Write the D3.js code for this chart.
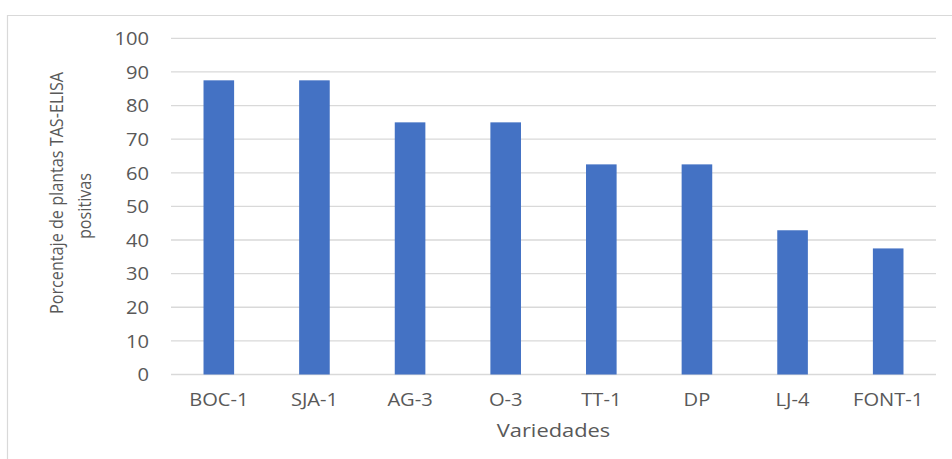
<!DOCTYPE html>
<html>
<head>
<meta charset="utf-8">
<script src="https://cdn.jsdelivr.net/npm/d3@7"></script>
<style>
  html, body { margin: 0; padding: 0; background: #ffffff; }
  svg { display: block; }
  text { font-family: "Open Sans", "Segoe UI", sans-serif; fill: #595959; }
</style>
</head>
<body>
<svg id="chart" width="952" height="459"></svg>
<script>
// Varieties and percentage of TAS-ELISA positive plants
const categories = ["BOC-1", "SJA-1", "AG-3", "O-3", "TT-1", "DP", "LJ-4", "FONT-1"];
const positives = [87.5, 87.5, 75, 75, 62.5, 62.5, 42.9, 37.5];
const yTicks = [0, 10, 20, 30, 40, 50, 60, 70, 80, 90, 100];
const yTitleLines = ["Porcentaje de plantas TAS-ELISA", "positivas"];
const xTitle = "Variedades";

const svg = d3.select("#chart");
const plot = { left: 171, right: 936, top: 38.3, bottom: 374.5 };
const gridColor = "#d9d9d9";
const barColor = "#4472c4";
const stretch = 1.15; // widened lettering

// chart frame
svg.append("path")
  .attr("d", "M7.5,459 V15.5 H952")
  .attr("fill", "none")
  .attr("stroke", gridColor)
  .attr("stroke-width", 1.2);

const x = d3.scaleBand()
  .domain(categories)
  .range([plot.left, plot.right])
  .paddingInner(0.68)
  .paddingOuter(0.34);

const y = d3.scaleLinear()
  .domain([0, 100])
  .range([plot.bottom, plot.top]);

// horizontal gridlines
svg.append("g")
  .selectAll("line")
  .data(yTicks)
  .join("line")
  .attr("x1", plot.left)
  .attr("x2", plot.right)
  .attr("y1", d => y(d))
  .attr("y2", d => y(d))
  .attr("stroke", gridColor)
  .attr("stroke-width", 1.3);

// bars
svg.append("g")
  .selectAll("rect")
  .data(categories.map((c, i) => ({ c, v: positives[i] })))
  .join("rect")
  .attr("x", d => x(d.c))
  .attr("width", x.bandwidth())
  .attr("y", d => y(d.v))
  .attr("height", d => y(0) - y(d.v))
  .attr("fill", barColor);

// widen each text horizontally
function widen(sel) {
  sel.each(function () {
    const w = this.getComputedTextLength();
    d3.select(this)
      .attr("textLength", w * stretch)
      .attr("lengthAdjust", "spacingAndGlyphs");
  });
}

// y axis
const yAxis = svg.append("g")
  .attr("transform", `translate(${plot.left},0)`)
  .call(d3.axisLeft(y).tickValues(yTicks).tickSize(0).tickPadding(22));
yAxis.select(".domain").remove();
yAxis.selectAll("text")
  .attr("font-size", 17.5)
  .attr("font-family", "Open Sans")
  .attr("fill", "#595959")
  .attr("dy", "0.36em")
  .call(widen);

// x axis
const xAxis = svg.append("g")
  .attr("transform", `translate(0,${plot.bottom})`)
  .call(d3.axisBottom(x).tickSize(0).tickPadding(19));
xAxis.select(".domain").remove();
xAxis.selectAll("text")
  .attr("font-size", 17.5)
  .attr("font-family", "Open Sans")
  .attr("fill", "#595959")
  .attr("dy", "0.71em")
  .call(widen);

// x title
svg.append("text")
  .attr("x", (plot.left + plot.right) / 2)
  .attr("y", 437)
  .attr("text-anchor", "middle")
  .attr("font-size", 19)
  .text(xTitle)
  .call(widen);

// y title (two lines, rotated, glyphs widened across the page)
const yTitle = svg.append("g");
yTitle.append("text")
  .attr("transform", `translate(63,193) scale(${stretch},1) rotate(-90)`)
  .attr("text-anchor", "middle")
  .attr("font-size", 16.2)
  .text(yTitleLines[0]);
yTitle.append("text")
  .attr("transform", `translate(91,206) scale(${stretch},1) rotate(-90)`)
  .attr("text-anchor", "middle")
  .attr("font-size", 16.2)
  .text(yTitleLines[1]);
</script>
</body>
</html>
